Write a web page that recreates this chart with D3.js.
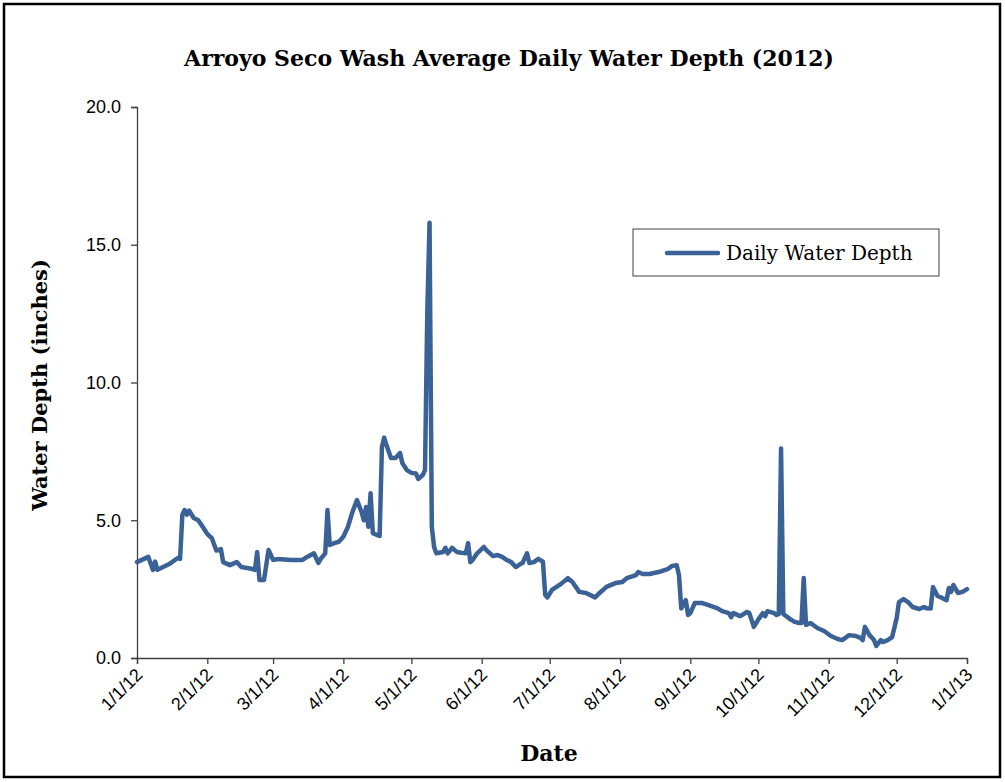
<!DOCTYPE html>
<html>
<head>
<meta charset="utf-8">
<script src="https://cdn.jsdelivr.net/npm/d3@7"></script>
<style>
  body { margin: 0; background: #fff; }
  svg { display: block; }
</style>
</head>
<body>
<svg width="1005" height="782"></svg>
<script>
// days since 1/1/12 and average depth (inches)
var dayNum = [0, 5, 7, 8, 9, 14, 18, 19, 20, 21, 22, 23, 25, 27, 29, 31, 33, 35, 37, 38,
    41, 44, 46, 51, 52, 53, 54, 56, 58, 60, 62, 68, 73, 75, 78, 80, 81, 83, 84, 85,
    87, 89, 91, 93, 95, 97, 99, 100, 101, 102, 103, 104, 106, 107, 108, 109, 110, 112, 114, 116,
    117, 119, 121, 123, 124, 126, 127, 128, 129, 130, 131, 132, 135, 136, 137, 139, 141, 143, 145, 146,
    147, 148, 150, 153, 154, 157, 159, 161, 163, 165, 167, 169, 170, 172, 173, 175, 177, 179, 180, 181,
    183, 187, 190, 192, 195, 198, 202, 204, 207, 211, 214, 216, 220, 221, 223, 226, 230, 234, 236, 238,
    239, 240, 242, 243, 244, 246, 249, 253, 256, 258, 261, 262, 263, 266, 269, 270, 272, 274, 276, 277,
    278, 281, 282, 283, 284, 285, 288, 290, 292, 293, 294, 295, 297, 300, 303, 306, 309, 311, 314, 317,
    319, 320, 321, 323, 325, 326, 328, 329, 331, 333, 335, 336, 338, 340, 342, 345, 347, 348, 350, 351,
    353, 355, 357, 358, 359, 360, 362, 364, 366];
var depth = [3.48, 3.67, 3.2, 3.5, 3.2, 3.4, 3.63, 3.6, 5.2, 5.37, 5.2, 5.35, 5.08, 5.0, 4.76, 4.5, 4.35, 3.9, 3.95, 3.48,
    3.37, 3.48, 3.3, 3.23, 3.2, 3.85, 2.83, 2.83, 3.92, 3.56, 3.59, 3.56, 3.56, 3.67, 3.8, 3.45, 3.6, 3.8, 5.37, 4.1,
    4.17, 4.22, 4.4, 4.76, 5.3, 5.73, 5.3, 5.0, 5.48, 4.76, 5.98, 4.53, 4.46, 4.43, 7.66, 8.0, 7.73, 7.26, 7.26, 7.44,
    7.08, 6.82, 6.72, 6.7, 6.5, 6.64, 6.82, 12.5, 15.8, 4.76, 4.03, 3.8, 3.85, 4.0, 3.8, 4.0, 3.85, 3.82, 3.8, 4.17,
    3.48, 3.56, 3.8, 4.03, 3.92, 3.7, 3.74, 3.67, 3.56, 3.48, 3.3, 3.41, 3.45, 3.8, 3.45, 3.48, 3.6, 3.5, 2.29, 2.2,
    2.47, 2.69, 2.9, 2.76, 2.4, 2.36, 2.2, 2.36, 2.58, 2.72, 2.76, 2.9, 3.01, 3.12, 3.05, 3.05, 3.12, 3.23, 3.34, 3.37,
    3.0, 1.8, 2.1, 1.56, 1.63, 2.0, 2.0, 1.89, 1.8, 1.7, 1.63, 1.48, 1.63, 1.52, 1.67, 1.63, 1.13, 1.4, 1.63, 1.52,
    1.7, 1.63, 1.56, 1.6, 7.6, 1.6, 1.41, 1.31, 1.27, 1.27, 2.9, 1.2, 1.27, 1.09, 0.98, 0.8, 0.69, 0.65, 0.83, 0.8,
    0.73, 0.65, 1.13, 0.83, 0.65, 0.44, 0.65, 0.58, 0.65, 0.76, 1.45, 2.03, 2.14, 2.03, 1.85, 1.78, 1.85, 1.81, 1.8, 2.58,
    2.25, 2.18, 2.1, 2.54, 2.4, 2.65, 2.36, 2.4, 2.5];

var yTicks = [0, 5, 10, 15, 20];
var seriesName = "Daily Water Depth";

var svg = d3.select("svg");
var start = new Date(2012, 0, 1);

var data = dayNum.map(function(d, i) {
    return { date: d3.timeDay.offset(start, d), value: depth[i] };
});

var x = d3.scaleTime()
    .domain([start, new Date(2013, 0, 1)])
    .range([137, 967]);
var y = d3.scaleLinear()
    .domain([0, 20])
    .range([658, 107]);

// outer frame
svg.append("rect")
    .attr("x", 4).attr("y", 4)
    .attr("width", 996).attr("height", 773)
    .attr("fill", "none")
    .attr("stroke", "#000")
    .attr("stroke-width", 2.5);

svg.append("text")
    .attr("x", 509).attr("y", 66)
    .attr("text-anchor", "middle")
    .attr("font-family", "DejaVu Serif")
    .attr("font-weight", "bold")
    .attr("font-size", 22)
    .text("Arroyo Seco Wash Average Daily Water Depth (2012)");

var yAxis = svg.append("g")
    .attr("transform", "translate(137,0)")
    .call(d3.axisLeft(y).tickValues(yTicks).tickSize(6).tickPadding(10)
        .tickFormat(d3.format(".1f")));
yAxis.selectAll("text")
    .attr("font-family", "Liberation Sans")
    .attr("font-size", 18)
    .attr("fill", "#000");

var xAxis = svg.append("g")
    .attr("transform", "translate(0,658)")
    .call(d3.axisBottom(x).ticks(d3.timeMonth.every(1)).tickSize(6)
        .tickFormat(d3.timeFormat("%-m/%-d/%y")));
xAxis.selectAll("text")
    .attr("font-family", "Liberation Sans")
    .attr("font-size", 18)
    .attr("fill", "#000")
    .attr("text-anchor", "end")
    .attr("transform", "translate(-3,9) rotate(-45)")
    .attr("dy", "0.71em")
    .attr("y", 0)
    .attr("x", 0);

svg.selectAll(".domain, .tick line")
    .attr("stroke", "#404040")
    .attr("stroke-width", 1.3);

svg.append("path")
    .datum(data)
    .attr("fill", "none")
    .attr("stroke", "#3A6296")
    .attr("stroke-width", 4.5)
    .attr("stroke-linejoin", "round")
    .attr("stroke-linecap", "round")
    .attr("d", d3.line()
        .x(function(d) { return x(d.date); })
        .y(function(d) { return y(d.value); }));

svg.append("text")
    .attr("transform", "translate(47,385) rotate(-90)")
    .attr("text-anchor", "middle")
    .attr("font-family", "DejaVu Serif")
    .attr("font-weight", "bold")
    .attr("font-size", 21)
    .text("Water Depth (inches)");

svg.append("text")
    .attr("x", 549).attr("y", 761)
    .attr("text-anchor", "middle")
    .attr("font-family", "DejaVu Serif")
    .attr("font-weight", "bold")
    .attr("font-size", 22)
    .text("Date");

// legend
var legend = svg.append("g");
legend.append("rect")
    .attr("x", 633).attr("y", 229)
    .attr("width", 306).attr("height", 47)
    .attr("fill", "#fff")
    .attr("stroke", "#404040")
    .attr("stroke-width", 1);
legend.append("line")
    .attr("x1", 667).attr("x2", 718)
    .attr("y1", 253).attr("y2", 253)
    .attr("stroke", "#3A6296")
    .attr("stroke-width", 4.5)
    .attr("stroke-linecap", "round");
legend.append("text")
    .attr("x", 726).attr("y", 260)
    .attr("font-family", "DejaVu Serif")
    .attr("font-size", 20)
    .text(seriesName);
</script>
</body>
</html>
